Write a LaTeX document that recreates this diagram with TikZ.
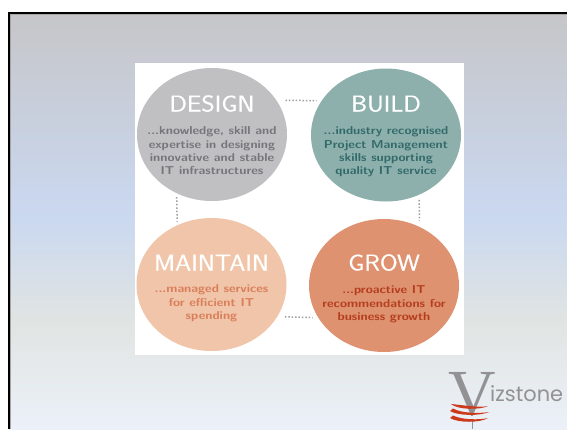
\documentclass[tikz,border=0pt]{standalone}
\usepackage{fontspec}
\setmainfont{Liberation Serif}
\newfontfamily\logofont{Poppins}
\newfontfamily\headfont[FakeStretch=1.12,FakeBold=0.6]{Latin Modern Sans}
\newfontfamily\bodyfont[FakeStretch=1.12]{Latin Modern Sans}
\usetikzlibrary{shapes.geometric}
\definecolor{bga}{RGB}{198,198,201}
\definecolor{bgb}{RGB}{202,216,240}
\definecolor{bgc}{RGB}{224,228,226}
\definecolor{bgd}{RGB}{236,241,249}
\pgfdeclareverticalshading{slidebg}{100bp}{
color(0bp)=(bgd);
color(25bp)=(bgd);
color(38bp)=(bgc);
color(50.5bp)=(bgb);
color(75bp)=(bga);
color(100bp)=(bga)}
\definecolor{cdesign}{RGB}{192,192,195}
\definecolor{tdesign}{RGB}{118,118,122}
\definecolor{cbuild}{RGB}{142,176,173}
\definecolor{tbuild}{RGB}{50,106,106}
\definecolor{cmaintain}{RGB}{240,197,170}
\definecolor{tmaintain}{RGB}{218,126,90}
\definecolor{cgrow}{RGB}{222,146,112}
\definecolor{tgrow}{RGB}{180,62,30}
\definecolor{logogray}{RGB}{146,146,148}
\definecolor{logored}{RGB}{204,58,28}
\tikzset{
x=1bp,y=-1bp,
blob/.style={ellipse,minimum width=150bp,minimum height=133bp,inner sep=0pt},
head/.style={font=\headfont\fontsize{23}{23}\selectfont,text=white,inner sep=0pt,anchor=base},
body/.style={font=\bodyfont\bfseries\fontsize{11.5}{13.4}\selectfont,align=center,inner sep=0pt,anchor=north},
dots/.style={draw=gray!75,line width=1.5bp,dash pattern=on 1.5bp off 1.9bp},
swirl/.style={fill=logored},
}
\begin{document}
\begin{tikzpicture}
\useasboundingbox (0,0) rectangle (567,429);
\fill[white] (0,0) rectangle (567,429);
\path[shading=slidebg] (9,13) rectangle (567,429);
\draw[gray!70,line width=1bp] (10.5,429) -- (10.5,14.5) -- (567,14.5);
\draw[black,line width=2bp] (9,429) -- (9,13) -- (567,13);
\fill[white] (135,63) rectangle (464,355);
\node[blob,fill=cdesign] (design) at (212,134.5) {};
\node[blob,fill=cbuild] (build) at (386,135) {};
\node[blob,fill=cmaintain] (maintain) at (211.5,284.5) {};
\node[blob,fill=cgrow] (grow) at (384,285.5) {};
\draw[dots,shorten <=9bp,shorten >=5bp] (design.28) -- (build.152);
\draw[dots,shorten <=7.5bp,shorten >=5.4bp] (maintain.-26) -- (grow.206);
\draw[dots,shorten <=3.7bp,shorten >=3.6bp] (design.239) -- (maintain.120);
\draw[dots,shorten <=5bp,shorten >=5.7bp] (build.-61) -- (grow.59);
\node[head] at (212,111.5) {DESIGN};
\node[head] at (386,111.5) {BUILD};
\node[head] at (211.5,270.5) {MAINTAIN};
\node[head] at (384,270.5) {GROW};
\node[body,text=tdesign] at (212,126.5) {...knowledge, skill and\\expertise in designing\\innovative and stable\\IT infrastructures};
\node[body,text=tbuild] at (386,126.5) {...industry recognised\\Project Management\\skills supporting\\quality IT service};
\node[body,text=tmaintain] at (211.5,284.5) {...managed services\\for efficient IT\\spending};
\node[body,text=tgrow] at (384,285.5) {...proactive IT\\recommendations for\\business growth};
\node[font=\fontsize{66}{66}\selectfont,text=logogray,inner sep=0pt,anchor=base] (logov) at (472.5,415) {V};
\node[font=\logofont\fontsize{21}{21}\selectfont,text=logogray,inner sep=0pt,anchor=base west] (logot) at (490,401) {izstone};
\draw[logogray,line width=1bp] (472,420) -- (472,429);
\fill[swirl] (451,404) .. controls (462,405) and (480,408) .. (488,406) .. controls (480,410) and (458,410) .. (451,404);
\fill[swirl] (450,411) .. controls (458,416) and (480,416) .. (489,412) .. controls (480,413.5) and (462,413.5) .. (453,408.5) -- cycle;
\fill[swirl] (450,418) .. controls (458,423) and (480,423) .. (488,418) .. controls (480,420) and (462,420) .. (453,415.5) -- cycle;
\end{tikzpicture}
\end{document}
